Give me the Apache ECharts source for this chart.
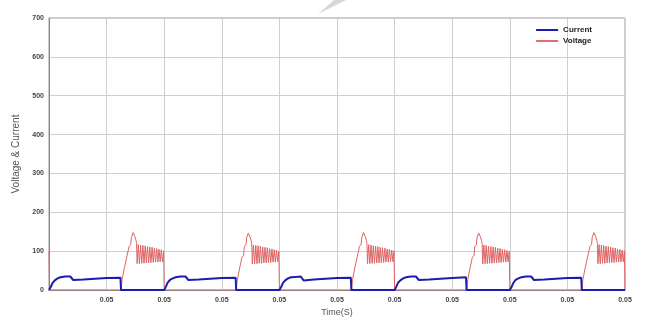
<!DOCTYPE html>
<html>
<head>
<meta charset="utf-8">
<script src="https://cdn.jsdelivr.net/npm/echarts@6/dist/echarts.min.js"></script>
<style>html,body{margin:0;padding:0;background:#fff}#c{width:645px;height:322px}</style>
</head>
<body>
<div id="c"></div>
<script>
var yTickLabels = ['0','100','200','300','400','500','600','700'];
var xTickLabels = ['', '0.05','0.05','0.05','0.05','0.05','0.05','0.05','0.05','0.05','0.05'];
var seriesNames = ['Current','Voltage'];

var currentTime = [
  0.0000,0.0003,0.0006,0.0010,0.0015,0.0020,0.0028,0.0037,0.0040,0.0042,0.0060,0.0080,0.0100,0.0124,0.0125,
  0.0200,0.0203,0.0206,0.0210,0.0215,0.0220,0.0228,0.0237,0.0240,0.0242,0.0260,0.0280,0.0300,0.0324,0.0325,
  0.0400,0.0403,0.0406,0.0410,0.0415,0.0420,0.0428,0.0437,0.0440,0.0442,0.0460,0.0480,0.0500,0.0524,0.0525,
  0.0600,0.0603,0.0606,0.0610,0.0615,0.0620,0.0628,0.0637,0.0640,0.0642,0.0660,0.0680,0.0700,0.0724,0.0725,
  0.0800,0.0803,0.0806,0.0810,0.0815,0.0820,0.0828,0.0837,0.0840,0.0842,0.0860,0.0880,0.0900,0.0924,0.0925,
  0.1000
];
var currentValue = [
  0,8,18,25,30,33,35,35,32,26,27,29,31,32,0,
  0,9,19,26,30,33,35,35,31,26,27,29,31,32,0,
  0,8,18,25,30,33,34,35,32,25,27,29,31,32,0,
  0,9,19,25,30,33,35,35,32,26,27,29,31,33,0,
  0,8,18,26,30,33,35,35,32,26,27,29,31,32,0,
  0
];

var voltageTime = [
  0.0000,0.0001,0.0125,0.0127,0.0130,0.0131,0.0134,0.0135,0.0138,0.0139,0.0142,0.0143,0.0146,0.0149,0.0151,0.0152,
  0.0153,0.0155,0.0157,0.0159,0.0161,0.0163,0.0165,0.0167,0.0169,0.0171,0.0173,0.0175,0.0177,0.0179,0.0181,0.0183,0.0185,0.0187,0.0189,0.0191,0.0193,0.0195,0.0197,0.0199,0.0200,
  0.0325,0.0327,0.0330,0.0331,0.0334,0.0335,0.0338,0.0339,0.0342,0.0343,0.0346,0.0349,0.0351,0.0352,
  0.0353,0.0355,0.0357,0.0359,0.0361,0.0363,0.0365,0.0367,0.0369,0.0371,0.0373,0.0375,0.0377,0.0379,0.0381,0.0383,0.0385,0.0387,0.0389,0.0391,0.0393,0.0395,0.0397,0.0399,0.0400,
  0.0525,0.0527,0.0530,0.0531,0.0534,0.0535,0.0538,0.0539,0.0542,0.0543,0.0546,0.0549,0.0551,0.0552,
  0.0553,0.0555,0.0557,0.0559,0.0561,0.0563,0.0565,0.0567,0.0569,0.0571,0.0573,0.0575,0.0577,0.0579,0.0581,0.0583,0.0585,0.0587,0.0589,0.0591,0.0593,0.0595,0.0597,0.0599,0.0600,
  0.0725,0.0727,0.0730,0.0731,0.0734,0.0735,0.0738,0.0739,0.0742,0.0743,0.0746,0.0749,0.0751,0.0752,
  0.0753,0.0755,0.0757,0.0759,0.0761,0.0763,0.0765,0.0767,0.0769,0.0771,0.0773,0.0775,0.0777,0.0779,0.0781,0.0783,0.0785,0.0787,0.0789,0.0791,0.0793,0.0795,0.0797,0.0799,0.0800,
  0.0925,0.0927,0.0930,0.0931,0.0934,0.0935,0.0938,0.0939,0.0942,0.0943,0.0946,0.0949,0.0951,0.0952,
  0.0953,0.0955,0.0957,0.0959,0.0961,0.0963,0.0965,0.0967,0.0969,0.0971,0.0973,0.0975,0.0977,0.0979,0.0981,0.0983,0.0985,0.0987,0.0989,0.0991,0.0993,0.0995,0.0997,0.0999,0.1000
];
var voltageValue = [
  100,0,0,28,32,58,62,85,90,112,118,135,148,138,128,120,
  68,117,68,116,69,115,69,114,70,112,70,111,71,110,71,108,72,107,72,105,73,104,73,101,0,
  0,26,31,57,61,84,90,111,117,134,147,137,127,119,
  67,116,68,115,68,114,69,113,69,111,70,110,70,109,71,107,71,106,72,104,72,103,73,100,0,
  0,27,32,58,62,85,90,112,118,135,148,138,128,120,
  68,117,68,116,69,114,69,113,70,112,70,110,71,109,71,108,72,106,72,105,73,103,73,101,0,
  0,27,31,57,62,84,90,111,117,134,147,137,127,119,
  67,116,68,115,68,113,69,112,69,111,70,110,70,108,71,107,71,105,72,104,72,102,73,100,0,
  0,28,32,58,62,85,90,112,118,135,148,138,128,120,
  68,117,68,116,69,115,69,113,70,112,70,111,71,109,71,108,72,106,72,105,73,103,73,101,0
];

function pairs(t, v){ var o=[]; for(var i=0;i<t.length;i++){ o.push([t[i], v[i]]); } return o; }

var chart = echarts.init(document.getElementById('c'), null, {renderer:'canvas'});
var lblFont = {fontFamily:'Liberation Sans, Arial, sans-serif', fontSize:7, fontWeight:'bold', color:'#444'};
chart.setOption({
  animation:false,
  backgroundColor:'#fff',
  grid:{left:49, right:20, top:18, bottom:25, show:true, borderColor:'#9a9a9a', borderWidth:1},
  legend:{
    data:[
      {name:seriesNames[0], icon:'rect', itemStyle:{color:'#1c1cb0'}},
      {name:seriesNames[1], icon:'rect', itemStyle:{color:'#e07070'}}
    ],
    orient:'vertical', right:48, top:23, itemWidth:22, itemHeight:2, itemGap:3,
    textStyle:{fontFamily:'Liberation Sans, Arial, sans-serif', fontSize:8, fontWeight:'bold', color:'#222'},
    padding:[3,5]
  },
  xAxis:{
    type:'value', min:0, max:0.1, interval:0.01,
    name:'Time(S)', nameLocation:'middle', nameGap:15,
    nameTextStyle:{fontFamily:'Liberation Sans, Arial, sans-serif', fontSize:9, color:'#555'},
    axisLine:{show:true, lineStyle:{color:'#888'}},
    axisTick:{show:false},
    axisLabel:Object.assign({margin:6, formatter:function(v){return xTickLabels[Math.round(v/0.01)];}}, lblFont),
    splitLine:{show:true, lineStyle:{color:'#cfcfcf', width:1}}
  },
  yAxis:{
    type:'value', min:0, max:700, interval:100,
    name:'Voltage & Current', nameLocation:'middle', nameGap:27,
    nameTextStyle:{fontFamily:'Liberation Sans, Arial, sans-serif', fontSize:10, color:'#555'},
    axisLine:{show:true, lineStyle:{color:'#888'}},
    axisTick:{show:false},
    axisLabel:Object.assign({margin:5, formatter:function(v){return yTickLabels[Math.round(v/100)];}}, lblFont),
    splitLine:{show:true, lineStyle:{color:'#cfcfcf', width:1}}
  },
  graphic:[{type:'polygon', shape:{points:[[318,14],[334,0],[346,0]]}, style:{fill:'#d8d8d8'}, z:-1}],
  series:[
    {name:seriesNames[1], type:'line', data:pairs(voltageTime, voltageValue), symbol:'none',
     lineStyle:{color:'#de6464', width:1}, itemStyle:{color:'#e07070'}, z:2},
    {name:seriesNames[0], type:'line', data:pairs(currentTime, currentValue), symbol:'none',
     lineStyle:{color:'#1c1cb0', width:2}, itemStyle:{color:'#1c1cb0'}, z:3}
  ]
});
</script>
</body>
</html>
